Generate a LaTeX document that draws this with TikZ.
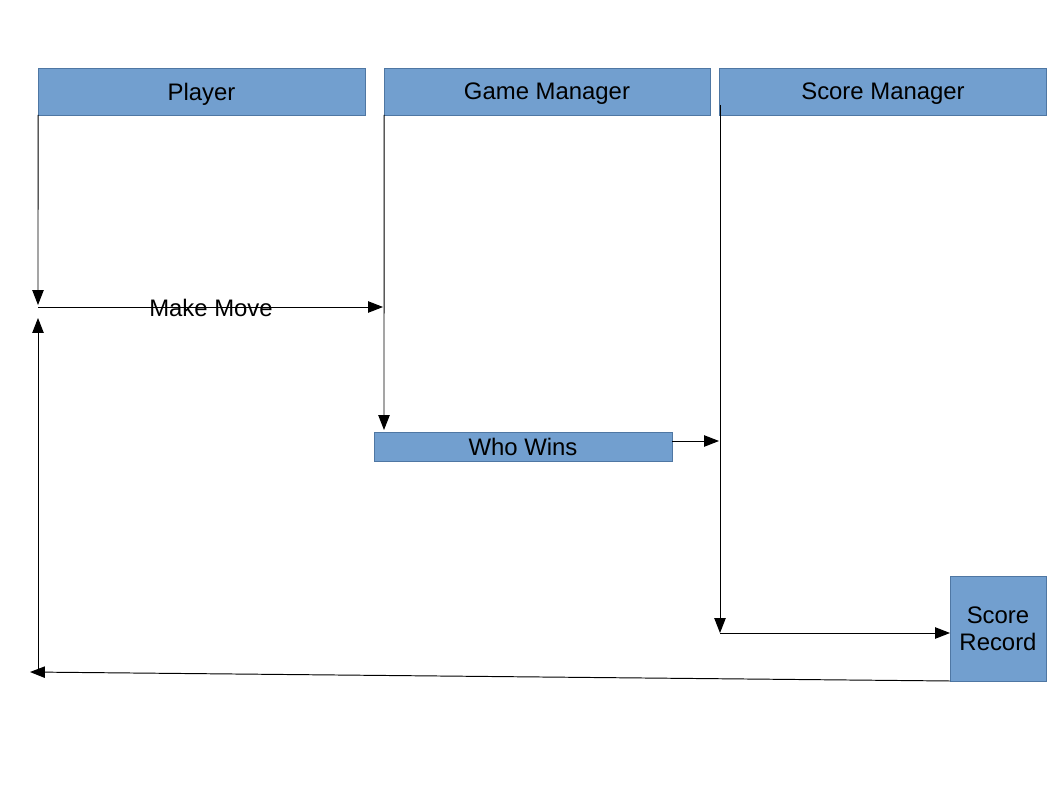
\documentclass[tikz,border=0pt]{standalone}
\usepackage{fontspec}
\setmainfont{Liberation Sans}
\usetikzlibrary{arrows.meta}
\definecolor{lanefill}{HTML}{729FCF}
\definecolor{laneline}{HTML}{4F77A3}

\begin{document}
\begin{tikzpicture}[x=0.02cm,y=-0.02cm,>={Triangle[length=8.5pt,width=6.5pt]},line width=0.55pt,
  box/.style={draw=laneline,fill=lanefill,line width=0.4pt,inner sep=0pt,outer sep=0pt,
    font=\fontsize{13.6}{15.5}\selectfont,align=center},
  lane/.style={box,text depth=0pt,minimum width=6.54cm,minimum height=0.94cm}]
  \useasboundingbox (0,0) rectangle (1058,794);
  % swimlane heads
  \node[lane] (player) at (201.5,91.5) {Player};
  \node[lane,minimum width=6.52cm] (game) at (547,91.5) {Game Manager};
  \node[lane] (score) at (883,91.5) {Score Manager};
  \node[box,text depth=0pt,minimum width=5.96cm,minimum height=0.58cm] (who) at (523,446.5) {Who Wins};
  \node[box,minimum width=1.92cm,minimum height=2.1cm] (record) at (998,628.5) {Score\\Record};
  \coordinate (pdown) at (38,305);
  \coordinate (pmove) at (38,307);
  \coordinate (gmove) at (383,307);
  \coordinate (pup) at (38,318);
  \coordinate (pback) at (38,672);
  \coordinate (pend) at (30,672);
  \coordinate (gdown) at (384,430);
  \coordinate (wout) at (672,441);
  \coordinate (sin) at (719,441);
  \coordinate (stop) at (720,105);
  \coordinate (sdown) at (720,633);
  % messages
  \draw[->] (player.south west) -- (pdown);
  \draw[->] (pmove) -- (gmove);
  \node[font=\fontsize{13.6}{15.5}\selectfont] (move) at (211,308) {Make Move};
  \draw[->] (game.south west) -- (gdown);
  \draw[->] (wout) -- (sin);
  \draw[->] (stop) -- (sdown);
  \draw[->] (sdown) -- (record.west |- sdown);
  \draw[->] (record.south west) -- (pend);
  \draw[->] (pback) -- (pup);
\end{tikzpicture}
\end{document}
